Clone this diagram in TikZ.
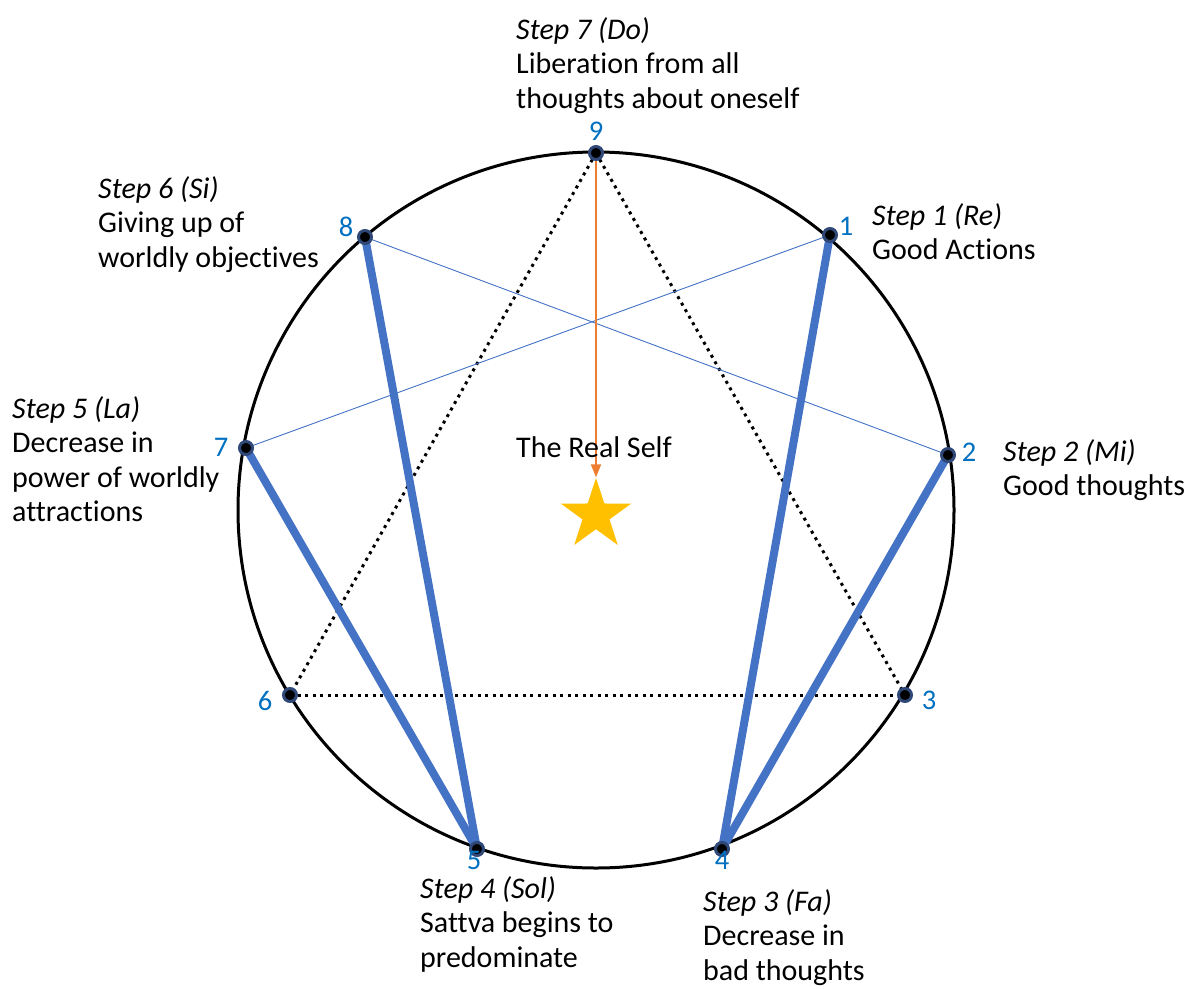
\documentclass[tikz,border=0pt]{standalone}
\usepackage{fontspec}
\setmainfont{Carlito}[Ligatures=NoCommon]
\usetikzlibrary{arrows.meta,shapes.geometric}
\definecolor{lineblue}{RGB}{68,114,196}
\definecolor{numblue}{RGB}{0,112,192}
\definecolor{dotrim}{RGB}{47,72,120}
\definecolor{arroworange}{RGB}{237,125,49}
\definecolor{stargold}{RGB}{255,192,0}
\newcommand{\lblfont}{\fontsize{30}{34.5}\selectfont}
\tikzset{
  x=1pt, y=-1pt,
  pt/.style={circle, fill=black, draw=dotrim, line width=3pt, minimum size=13pt, inner sep=0pt},
  num/.style={text=numblue, font=\fontsize{28.5}{32}\selectfont, inner sep=0pt},
  lbl/.style={anchor=base west, inner sep=0pt, align=left},
  thickline/.style={lineblue, line width=8pt, line cap=round},
  thinline/.style={lineblue, line width=0.9pt},
  dotline/.style={black, line width=3pt, dash pattern=on 3pt off 4.5pt},
}
\begin{document}
\begin{tikzpicture}
\useasboundingbox (0,0) rectangle (1198,988);
% circle
\draw[black, line width=3pt] (596,510) circle (358);
% points
\coordinate (p9) at (596,153);
\coordinate (p1) at (830,235);
\coordinate (p2) at (948,455);
\coordinate (p3) at (905,695);
\coordinate (p4) at (722,849);
\coordinate (p5) at (477,849);
\coordinate (p6) at (290,695);
\coordinate (p7) at (246,448);
\coordinate (p8) at (365,237);
% dotted triangle
\draw[dotline] (p9) -- (p3);
\draw[dotline] (p9) -- (p6);
\draw[dotline] (p6) -- (p3);
% thin lines
\draw[thinline] (p8) -- (p2);
\draw[thinline] (p7) -- (p1);
% thick lines
\draw[thickline] (p1) -- (p4);
\draw[thickline] (p2) -- (p4);
\draw[thickline] (p8) -- (p5);
\draw[thickline] (p7) -- (p5);
% star and arrow
\node[star, star points=5, star point ratio=2.6, fill=stargold, draw=none, minimum size=74pt, inner sep=0pt] (star) at (596,515) {};
\draw[arroworange, line width=1.6pt, -{Triangle[length=13pt,width=10pt]}] (p9) -- (star.north);
% dots
\foreach \i in {1,...,9} { \node[pt] (d\i) at (p\i) {}; }
% numbers
\node[num] (n9) at (596,131) {9};
\node[num] (n1) at (846,226) {1};
\node[num] (n2) at (969,452) {2};
\node[num] (n3) at (929,700) {3};
\node[num] (n4) at (722,860) {4};
\node[num] (n5) at (474,860) {5};
\node[num] (n6) at (265,701) {6};
\node[num] (n7) at (221,447) {7};
\node[num] (n8) at (346,227) {8};
% labels
\node[lbl] (l7) at (516,39) {\lblfont\vtop{\hbox{\itshape Step 7 (Do)}\hbox{Liberation from all}\hbox{thoughts about oneself}}};
\node[lbl] (l1) at (872,225) {\lblfont\vtop{\hbox{\itshape Step 1 (Re)}\hbox{Good Actions}}};
\node[lbl] (l2) at (1003,461) {\lblfont\vtop{\hbox{\itshape Step 2 (Mi)}\hbox{Good thoughts}}};
\node[lbl] (l3) at (703,911) {\lblfont\vtop{\hbox{\itshape Step 3 (Fa)}\hbox{Decrease in}\hbox{bad thoughts}}};
\node[lbl] (l4) at (420,898) {\lblfont\vtop{\hbox{\itshape Step 4 (Sol)}\hbox{Sattva begins to}\hbox{predominate}}};
\node[lbl] (l5) at (12,418) {\lblfont\vtop{\hbox{\itshape Step 5 (La)}\hbox{Decrease in}\hbox{power of worldly}\hbox{attractions}}};
\node[lbl] (l6) at (98,198) {\lblfont\vtop{\hbox{\itshape Step 6 (Si)}\hbox{Giving up of}\hbox{worldly objectives}}};
\node[lbl] (self) at (516,457) {\lblfont The Real Self};
\end{tikzpicture}
\end{document}
